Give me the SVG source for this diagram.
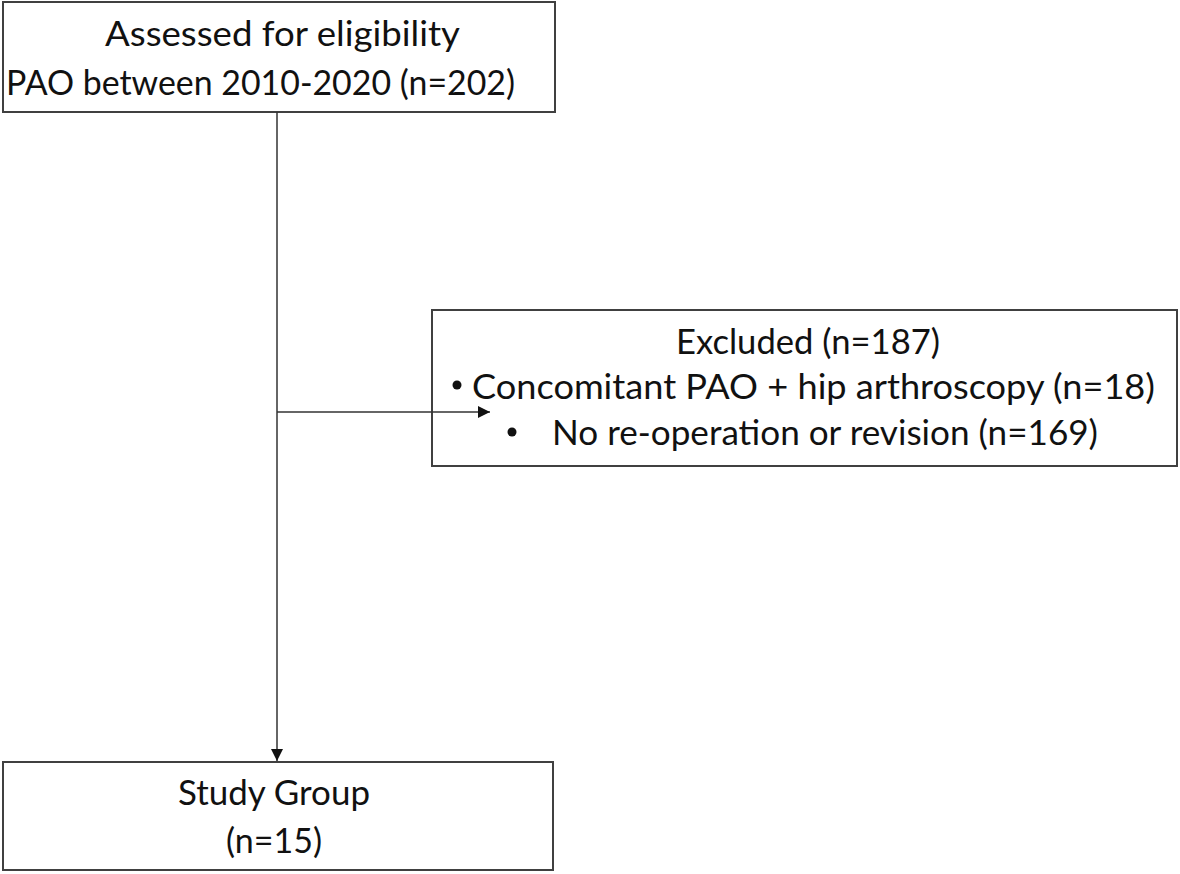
<svg xmlns="http://www.w3.org/2000/svg" width="1180" height="874" viewBox="0 0 1180 874">
<style>
.box{fill:none;stroke:#404040;stroke-width:2}
.t{font-family:Lato,"Liberation Sans",sans-serif;font-size:35px;fill:#111}
.c{stroke:#333;stroke-width:1.5;fill:none}
</style>
<defs>
<marker id="ah" viewBox="0 0 12 12" refX="12" refY="6" markerWidth="12" markerHeight="12" markerUnits="userSpaceOnUse" orient="auto">
<path d="M0,0 L12,6 L0,12 Z" fill="#111"/>
</marker>
</defs>
<rect width="1180" height="874" fill="#fff"/>
<g id="assessed">
<rect class="box" x="3" y="2" width="552" height="110"/>
<text class="t" x="105" y="46" textLength="355" lengthAdjust="spacingAndGlyphs">Assessed for eligibility</text>
<text class="t" x="6" y="95" textLength="509" lengthAdjust="spacingAndGlyphs">PAO between 2010-2020 (n=202)</text>
</g>
<g id="excluded">
<rect class="box" x="432" y="310" width="745" height="156"/>
<text class="t" x="676" y="354" textLength="264" lengthAdjust="spacingAndGlyphs">Excluded (n=187)</text>
<circle cx="457" cy="385" r="4.5" fill="#111"/>
<text class="t" x="472" y="399" textLength="683" lengthAdjust="spacingAndGlyphs">Concomitant PAO + hip arthroscopy (n=18)</text>
<circle cx="512" cy="432" r="4.5" fill="#111"/>
<text class="t" x="552" y="445" textLength="546" lengthAdjust="spacingAndGlyphs">No re-operation or revision (n=169)</text>
</g>
<g id="study">
<rect class="box" x="3" y="762" width="550" height="108"/>
<text class="t" x="178" y="805" textLength="192" lengthAdjust="spacingAndGlyphs">Study Group</text>
<text class="t" x="226" y="853" textLength="96" lengthAdjust="spacingAndGlyphs">(n=15)</text>
</g>
<g id="connectors">
<line class="c" x1="277" y1="112" x2="277" y2="761" marker-end="url(#ah)"/>
<line class="c" x1="277" y1="412" x2="490" y2="412" marker-end="url(#ah)"/>
</g>
</svg>
